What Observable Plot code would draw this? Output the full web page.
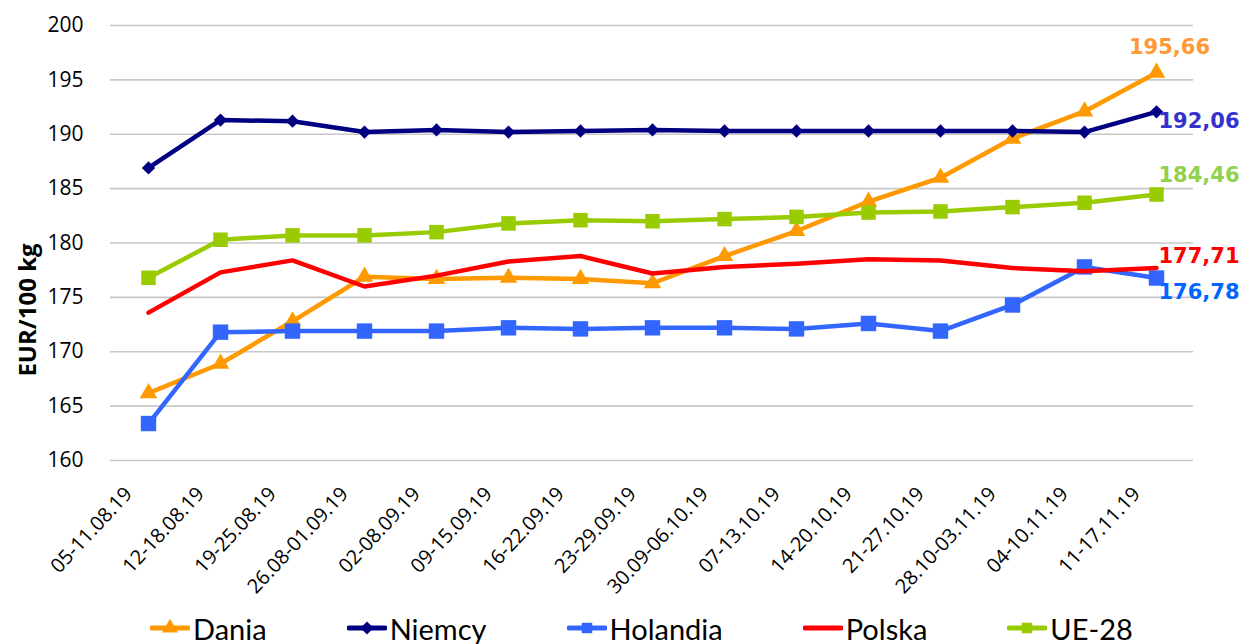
<!DOCTYPE html>
<html>
<head>
<meta charset="utf-8">
<script src="https://cdn.jsdelivr.net/npm/d3@7"></script>
<script src="https://cdn.jsdelivr.net/npm/@observablehq/plot@0.6"></script>
<style>
  html, body { margin: 0; padding: 0; background: #fff; }
  #wrap { position: relative; width: 1248px; height: 644px; overflow: hidden; }
  #legend { position: absolute; left: 0; top: 608px; height: 40px; display: flex; align-items: center; gap: 80px; padding-left: 150px; font-family: Lato, "Open Sans", sans-serif; font-size: 29px; color: #000; }
  #legend .item { display: flex; align-items: center; gap: 3px; }
</style>
</head>
<body>
<div id="wrap"><div id="chart"></div><div id="legend"></div></div>
<script>
const weeks = ["05-11.08.19","12-18.08.19","19-25.08.19","26.08-01.09.19","02-08.09.19","09-15.09.19","16-22.09.19","23-29.09.19","30.09-06.10.19","07-13.10.19","14-20.10.19","21-27.10.19","28.10-03.11.19","04-10.11.19","11-17.11.19"];
const seriesNames = ["Dania","Niemcy","Holandia","Polska","UE-28"];
const dania    = [166.2,168.9,172.8,176.9,176.7,176.8,176.7,176.3,178.8,181.1,183.8,186.0,189.6,192.1,195.66];
const niemcy   = [186.9,191.3,191.2,190.2,190.4,190.2,190.3,190.4,190.3,190.3,190.3,190.3,190.3,190.2,192.06];
const holandia = [163.4,171.8,171.9,171.9,171.9,172.2,172.1,172.2,172.2,172.1,172.6,171.9,174.3,177.8,176.78];
const polska   = [173.6,177.3,178.4,176.0,177.0,178.3,178.8,177.2,177.8,178.1,178.5,178.4,177.7,177.4,177.71];
const ue28     = [176.8,180.3,180.7,180.7,181.0,181.8,182.1,182.0,182.2,182.4,182.8,182.9,183.3,183.7,184.46];
const endLabels = ["195,66","192,06","176,78","177,71","184,46"];
const yTicks = [160,165,170,175,180,185,190,195,200];
const yLabel = "EUR/100 kg";

const values = [dania, niemcy, holandia, polska, ue28];
const colors = {"Dania":"#FF9900","Niemcy":"#000080","Holandia":"#3366FF","Polska":"#FF0000","UE-28":"#99CC00"};
const labelColors = {"Dania":"#FF9933","Niemcy":"#3333CC","Holandia":"#0066FF","Polska":"#FF0000","UE-28":"#92D050"};
const symbols = {"Dania":"triangle","Niemcy":"diamond2","Holandia":"square","Polska":null,"UE-28":"square"};
const radii = {"Dania":6.5,"Niemcy":6,"Holandia":8.7,"Polska":0,"UE-28":8.2};

const rows = [];
seriesNames.forEach((s, i) => values[i].forEach((v, j) => rows.push({series: s, week: weeks[j], value: v})));
const lastRows = seriesNames.map((s, i) => ({series: s, week: weeks[weeks.length-1], value: values[i][values[i].length-1], label: endLabels[i]}));

const marks = [
  Plot.ruleY(yTicks, {stroke: "#c8c8c8", strokeWidth: 1.6}),
  Plot.axisY({ticks: yTicks, tickSize: 0, tickPadding: 27, fontSize: 21, fontFamily: "Open Sans", label: null}),
  Plot.axisX({tickSize: 0, tickRotate: -47, tickPadding: 30, fontSize: 20, fontFamily: "Open Sans", label: null, dx: -20}),
  Plot.text([yLabel], {frameAnchor: "left", dx: -82, dy: 67, rotate: -90, textAnchor: "middle", fontSize: 24, fontWeight: "bold", fontFamily: "Open Sans", fill: "#000"})
];
seriesNames.forEach(s => {
  const d = rows.filter(r => r.series === s);
  marks.push(Plot.line(d, {x: "week", y: "value", stroke: colors[s], strokeWidth: 4.5, strokeLinejoin: "round", strokeLinecap: "round"}));
  if (symbols[s]) marks.push(Plot.dot(d, {x: "week", y: "value", fill: colors[s], symbol: symbols[s], r: radii[s]}));
});
const lblOffsets = {"Dania":[13,-25,"middle"],"Niemcy":[2,9,"start"],"Holandia":[2,14,"start"],"Polska":[2,-12,"start"],"UE-28":[2,-19,"start"]};
lastRows.forEach(r => {
  const [dx, dy, anchor] = lblOffsets[r.series];
  marks.push(Plot.text([r], {x: "week", y: "value", text: "label", fill: labelColors[r.series], dx, dy, textAnchor: anchor, fontSize: 21, fontWeight: "bold", fontFamily: "DejaVu Sans"}));
});

const chart = Plot.plot({
  width: 1248,
  height: 612,
  marginLeft: 110,
  marginRight: 55,
  marginTop: 25,
  marginBottom: 152,
  style: {background: "#fff", overflow: "visible"},
  x: {type: "point", domain: weeks, padding: 0.5},
  y: {domain: [160, 200]},
  marks
});
document.getElementById("chart").appendChild(chart);

// legend
const legend = document.getElementById("legend");
seriesNames.forEach(s => {
  const item = document.createElement("div");
  item.className = "item";
  const svg = d3.create("svg").attr("width", 40).attr("height", 20);
  svg.append("line").attr("x1", 2).attr("x2", 38).attr("y1", 10).attr("y2", 10).attr("stroke", colors[s]).attr("stroke-width", 5).attr("stroke-linecap", "round");
  if (symbols[s]) {
    const symMap = {triangle: d3.symbolTriangle, diamond2: d3.symbolDiamond2, square: d3.symbolSquare};
    svg.append("path").attr("transform", "translate(20,10)").attr("d", d3.symbol(symMap[symbols[s]], 110)()).attr("fill", colors[s]);
  }
  item.appendChild(svg.node());
  const t = document.createElement("span");
  t.textContent = s;
  item.appendChild(t);
  legend.appendChild(item);
});
</script>
</body>
</html>
